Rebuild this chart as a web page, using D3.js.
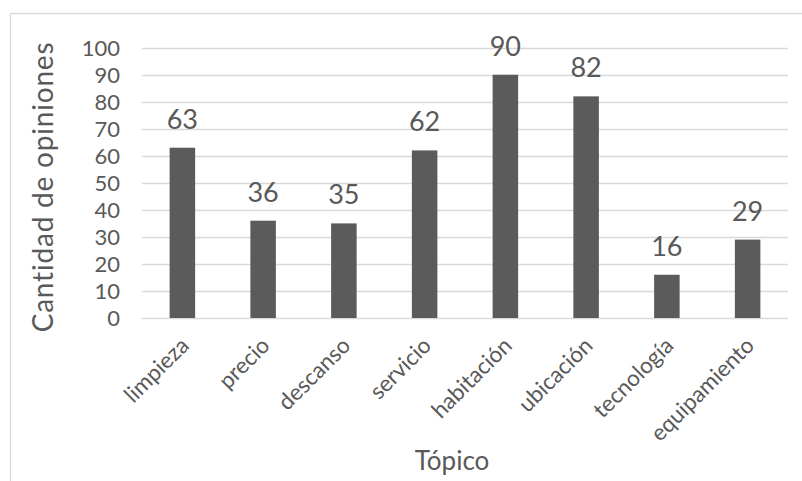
<!DOCTYPE html>
<html>
<head>
<meta charset="utf-8">
<script src="https://cdn.jsdelivr.net/npm/d3@7/dist/d3.min.js"></script>
<style>
  html, body { margin: 0; padding: 0; background: #fff; }
  svg { display: block; }
  text { font-family: Lato, "Noto Sans", sans-serif; fill: #595959; }
</style>
</head>
<body>
<svg id="chart" width="802" height="481"></svg>
<script>
const categories = ["limpieza", "precio", "descanso", "servicio", "habitación", "ubicación", "tecnología", "equipamiento"];
const values = [63, 36, 35, 62, 90, 82, 16, 29];
const yTicks = [0, 10, 20, 30, 40, 50, 60, 70, 80, 90, 100];
const yTitle = "Cantidad de opiniones";
const xTitle = "Tópico";

const svg = d3.select("#chart");
const W = 802, H = 481;
const plot = { left: 142, right: 788, top: 47.7, bottom: 318 };

// outer border (left and top visible)
svg.append("path")
  .attr("d", `M10.5,${H} L10.5,13.5 L${W},13.5`)
  .attr("fill", "none").attr("stroke", "#d9d9d9").attr("stroke-width", 1.3);

const x = d3.scaleBand().domain(categories).range([plot.left, plot.right])
  .paddingInner(0.684).paddingOuter(0.342);
const y = d3.scaleLinear().domain([0, 100]).range([plot.bottom, plot.top]);

// gridlines
svg.append("g").selectAll("line").data(yTicks).join("line")
  .attr("x1", plot.left).attr("x2", plot.right)
  .attr("y1", d => Math.round(y(d)) + 0.5).attr("y2", d => Math.round(y(d)) + 0.5)
  .attr("stroke", "#d9d9d9").attr("stroke-width", 1.3);

// y axis tick labels
const yAxis = d3.axisLeft(y).tickValues(yTicks).tickSize(0).tickPadding(0);
const gy = svg.append("g").attr("transform", `translate(120,0)`).call(yAxis);
gy.select(".domain").remove();
gy.selectAll("text").style("font-family", "Lato").style("font-size", "22px").attr("fill", "#595959").attr("dy", "0.36em");

// bars
svg.append("g").selectAll("rect").data(values).join("rect")
  .attr("x", (d, i) => x(categories[i]))
  .attr("width", x.bandwidth())
  .attr("y", d => y(d))
  .attr("height", d => y(0) - y(d))
  .attr("fill", "#5b5b5b");

// data labels
svg.append("g").selectAll("text").data(values).join("text")
  .attr("x", (d, i) => x(categories[i]) + x.bandwidth() / 2)
  .attr("y", d => y(d) - 19)
  .attr("text-anchor", "middle")
  .style("font-size", "27px")
  .text(d => d);

// x axis category labels
const xAxis = d3.axisBottom(x).tickSize(0).tickPadding(0);
const gx = svg.append("g").attr("transform", `translate(0,${plot.bottom})`).call(xAxis);
gx.select(".domain").remove();
gx.selectAll(".tick text")
  .attr("y", 0).attr("dy", 0)
  .attr("text-anchor", "end")
  .attr("transform", "translate(8,29) rotate(-45)")
  .style("font-family", "Lato").style("font-size", "22.5px").attr("fill", "#595959");

// axis titles
svg.append("text")
  .attr("transform", `translate(53,187) rotate(-90)`)
  .attr("text-anchor", "middle")
  .style("font-size", "28px")
  .style("letter-spacing", "0.8px")
  .text(yTitle);

svg.append("text")
  .attr("x", 452).attr("y", 470)
  .attr("text-anchor", "middle")
  .style("font-size", "26px")
  .text(xTitle);
</script>
</body>
</html>
